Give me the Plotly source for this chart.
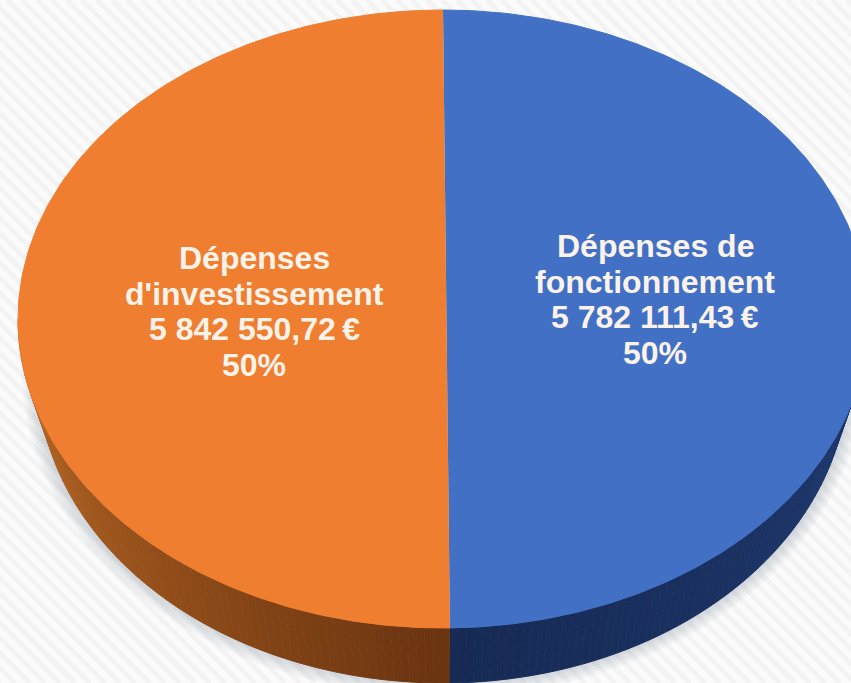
import numpy as np
import plotly.graph_objects as go

categories = ["Dépenses de fonctionnement", "Dépenses d'investissement"]
values = [5782111.43, 5842550.72]
label_lines = [["Dépenses de", "fonctionnement"], ["Dépenses", "d'investissement"]]
top_colors = ["#4170c4", "#ef7e30"]
side_colors = [((30, 56, 112), (22, 42, 84)), ((106, 52, 16), (190, 106, 36))]

W, H = 851, 683
CX, CY, RX, RY = 443, 319, 425, 309
DEPTH, RX2 = 55, 405

fig = go.Figure()

def add_poly(x, y, color, lw=1):
    fig.add_trace(go.Scatter(x=x, y=y, mode="lines", fill="toself", fillcolor=color,
                             line=dict(color=color, width=lw), hoverinfo="skip", showlegend=False))

# diagonal background stripes
sx, sy = [], []
for c in np.arange(-H, W + H, 15):
    sx += [c, c + H, None]
    sy += [0, H, None]
fig.add_trace(go.Scatter(x=sx, y=sy, mode="lines", line=dict(color="#f3f3f3", width=5),
                         hoverinfo="skip", showlegend=False))

# soft shadow
t = np.linspace(0, 2 * np.pi, 361)
for k in range(1, 7):
    add_poly(CX + (RX2 + k * 2.6) * np.sin(t), CY + DEPTH - 2 + (RY + k * 2.6) * np.cos(t),
             "rgba(110,120,140,0.055)", 0)

total = sum(values)
a0 = 0.0
spans = []  # angles clockwise from the top
for v in values:
    a1 = a0 + v / total * 2 * np.pi
    spans.append((a0, a1))
    a0 = a1

# side wall
def wall(a, b, c0, c1, n=80):
    edges = np.linspace(a, b, n + 1)
    for i in range(n):
        f = i / (n - 1)
        col = "rgb(%d,%d,%d)" % tuple(round(c0[j] + (c1[j] - c0[j]) * f) for j in range(3))
        th = np.linspace(edges[i], edges[i + 1], 3)
        xs = np.r_[CX + RX * np.sin(th), (CX + RX2 * np.sin(th))[::-1]]
        ys = np.r_[CY - RY * np.cos(th), (CY + DEPTH - RY * np.cos(th))[::-1]]
        add_poly(xs, ys, col)

wall(np.pi / 2, spans[0][1], *side_colors[0])
wall(spans[1][0], 3 * np.pi / 2, *side_colors[1])

# top faces
for (a, b), col in zip(spans, top_colors):
    th = np.linspace(a, b, 241)
    add_poly(CX + RX * np.sin(th), CY - RY * np.cos(th), col)

fig.update_xaxes(range=[0, W], visible=False, fixedrange=True)
fig.update_yaxes(range=[H, 0], visible=False, fixedrange=True)

def fr(v):
    s = f"{v:,.2f}".replace(",", " ").replace(".", ",")
    return s + "\u2009€"

anchors = [(655, 246), (254, 258)]
for i, (ax, ay) in enumerate(anchors):
    lines = label_lines[i] + [fr(values[i]), f"{round(values[i] / total * 100)}%"]
    for j, ln in enumerate(lines):
        fig.add_annotation(x=ax, y=ay + j * 35.7, text=f"<b>{ln}</b>", showarrow=False,
                           font=dict(family="Liberation Sans", size=32, color="#fbf3ea"),
                           xanchor="center", yanchor="middle")

fig.update_layout(width=W, height=H, margin=dict(l=0, r=0, t=0, b=0),
                  paper_bgcolor="#fbfbfb", plot_bgcolor="#fbfbfb", showlegend=False)

fig.write_html("out.html", config={"displayModeBar": False},
               post_script="document.body.style.margin='0';document.body.style.overflow='hidden';")
